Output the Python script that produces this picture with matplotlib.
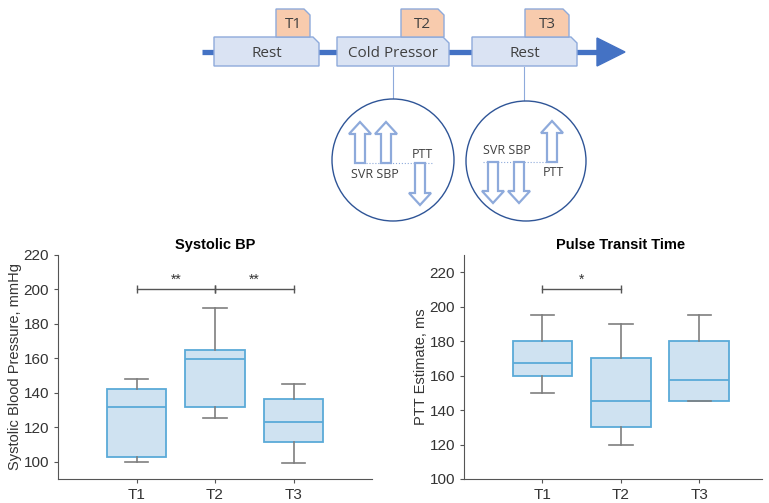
import numpy as np
import matplotlib.pyplot as plt
from matplotlib.patches import Polygon, Circle

plt.rcParams['font.family'] = ['Liberation Sans', 'DejaVu Sans']

# 数据：箱线图五数概括（下须、Q1、中位数、Q3、上须）
groups = ['T1', 'T2', 'T3']
positions = [1, 2, 3]

sbp_low = [100, 125.5, 99]
sbp_q1 = [103, 132, 111.5]
sbp_med = [132, 159.5, 123]
sbp_q3 = [142, 165, 136.5]
sbp_high = [148, 189, 145]

ptt_low = [150, 120, 145]
ptt_q1 = [160, 130, 145]
ptt_med = [167.5, 145, 157.5]
ptt_q3 = [180, 170, 180]
ptt_high = [195, 190, 195]

# 显著性标记 (起点, 终点, 符号)
sbp_sig = [(1, 2, '**'), (2, 3, '**')]
sbp_sig_y = 200
ptt_sig = [(1, 2, '*')]
ptt_sig_y = 210

# 实验流程示意图
phase_names = ['Rest', 'Cold Pressor', 'Rest']
phase_span = [(214, 319), (337, 449), (472, 577)]
tag_names = ['T1', 'T2', 'T3']
tag_span = [(276, 310), (401, 444), (525, 569)]

box_face = '#cfe2f1'
box_edge = '#5aaad8'
whisker_c = '#7f7f7f'
axis_c = '#555555'


def boxplot(ax, low, q1, med, q3, high):
    stats = []
    for i in range(len(low)):
        stats.append(dict(whislo=low[i], q1=q1[i], med=med[i], q3=q3[i],
                          whishi=high[i], fliers=[]))
    ax.bxp(stats, positions=positions, widths=0.76, patch_artist=True,
           showfliers=False, capwidths=0.3,
           boxprops=dict(facecolor=box_face, edgecolor=box_edge, lw=1.3),
           medianprops=dict(color=box_edge, lw=1.3),
           whiskerprops=dict(color=whisker_c, lw=1.2),
           capprops=dict(color=whisker_c, lw=1.2))


def sig_bars(ax, sig, y, dy):
    for x1, x2, s in sig:
        ax.plot([x1, x2], [y, y], color='#555555', lw=1, marker='|', ms=6)
        ax.text((x1 + x2) / 2, y + dy, s, ha='center', va='bottom', fontsize=10, color='#333333')


def style(ax):
    for sp in ['top', 'right']:
        ax.spines[sp].set_visible(False)
    for sp in ['left', 'bottom']:
        ax.spines[sp].set_color(axis_c)
    ax.tick_params(colors=axis_c, labelcolor='#333333', length=3, labelsize=11)
    ax.set_xticks(positions)
    ax.set_xticklabels(groups)


fig = plt.figure(figsize=(7.69, 5.03), dpi=100)

# 左图：收缩压
ax1 = fig.add_axes([58 / 769, 24 / 503, 314 / 769, 224 / 503])
boxplot(ax1, sbp_low, sbp_q1, sbp_med, sbp_q3, sbp_high)
sig_bars(ax1, sbp_sig, sbp_sig_y, 1.5)
ax1.set_xlim(0, 4)
ax1.set_ylim(90, 220)
ax1.set_yticks(np.arange(100, 221, 20))
style(ax1)
ax1.set_title('Systolic BP', fontsize=10.5, fontweight='bold', pad=4)
ax1.set_ylabel('Systolic Blood Pressure, mmHg', fontsize=10.5, color='#333333', labelpad=1)

# 右图：脉搏传导时间
ax2 = fig.add_axes([464 / 769, 24 / 503, 298 / 769, 224 / 503])
boxplot(ax2, ptt_low, ptt_q1, ptt_med, ptt_q3, ptt_high)
sig_bars(ax2, ptt_sig, ptt_sig_y, 1.5)
ax2.set_xlim(0, 3.8)
ax2.set_ylim(100, 230)
ax2.set_yticks(np.arange(100, 221, 20))
style(ax2)
ax2.set_title('Pulse Transit Time', fontsize=10.5, fontweight='bold', pad=4, x=2 / 3.8)
ax2.set_ylabel('PTT Estimate, ms', fontsize=10.5, color='#333333', labelpad=1)

# 上方示意图，用像素坐标
dg = fig.add_axes([0, 0, 1, 1], zorder=-1)
dg.set_xlim(0, 769)
dg.set_ylim(503, 0)
dg.axis('off')

line_c = '#4472c4'
light_edge = '#8eaadb'
txt_c = '#404040'


def folded(x0, x1, y0, y1, face, c=6):
    pts = [(x0, y0), (x1 - c, y0), (x1, y0 + c), (x1, y1), (x0, y1)]
    dg.add_patch(Polygon(pts, closed=True, facecolor=face, edgecolor=light_edge,
                         lw=1, zorder=3))


def hollow_arrow(x, y0, y1, hw=5, hh=11, hl=12):
    d = 1 if y1 > y0 else -1
    yn = y1 - d * hl
    pts = [(x - hw, y0), (x - hw, yn), (x - hh, yn), (x, y1),
           (x + hh, yn), (x + hw, yn), (x + hw, y0)]
    dg.add_patch(Polygon(pts, closed=True, facecolor='white', edgecolor=light_edge,
                         lw=1.6, zorder=3))


def label(x, y, s, size):
    dg.text(x, y, s, ha='center', va='center', fontsize=size, color=txt_c,
            family='Open Sans', zorder=4)


# 时间轴
dg.plot([202, 600], [52, 52], color=line_c, lw=3.8, solid_capstyle='butt', zorder=1)
dg.add_patch(Polygon([(597, 38), (625, 52), (597, 66)], closed=True, color=line_c, zorder=1))

for (x0, x1), name in zip(phase_span, phase_names):
    folded(x0, x1, 37, 66, '#dae3f3')
    label((x0 + x1) / 2, 53, name, 11)
for (x0, x1), name in zip(tag_span, tag_names):
    folded(x0, x1, 9, 37, '#f8cbad')
    label((x0 + x1) / 2, 24, name, 11)

# 连接线和圆圈
dg.plot([393, 393], [67, 99], color=light_edge, lw=0.8)
dg.plot([524, 524], [67, 101], color=light_edge, lw=0.8)
dg.add_patch(Circle((393, 160), 61, facecolor='white', edgecolor='#2f5597', lw=1, zorder=2))
dg.add_patch(Circle((526, 161), 60, facecolor='white', edgecolor='#2f5597', lw=1, zorder=2))

# 冷加压时：SVR、SBP 上升，PTT 下降
dg.plot([366, 432], [163, 163], color=light_edge, lw=0.8, ls=':', zorder=2.5)
hollow_arrow(360, 163, 122)
hollow_arrow(386, 163, 122)
hollow_arrow(420, 163, 205)
label(375, 174, 'SVR SBP', 9)
label(422, 154, 'PTT', 9)

# 恢复时：SVR、SBP 下降，PTT 上升
dg.plot([483, 556], [162, 162], color=light_edge, lw=0.8, ls=':', zorder=2.5)
hollow_arrow(493, 162, 203)
hollow_arrow(519, 162, 203)
hollow_arrow(552, 162, 121)
label(507, 151, 'SVR SBP', 9)
label(553, 172, 'PTT', 9)

plt.savefig('out.png', dpi=100)
